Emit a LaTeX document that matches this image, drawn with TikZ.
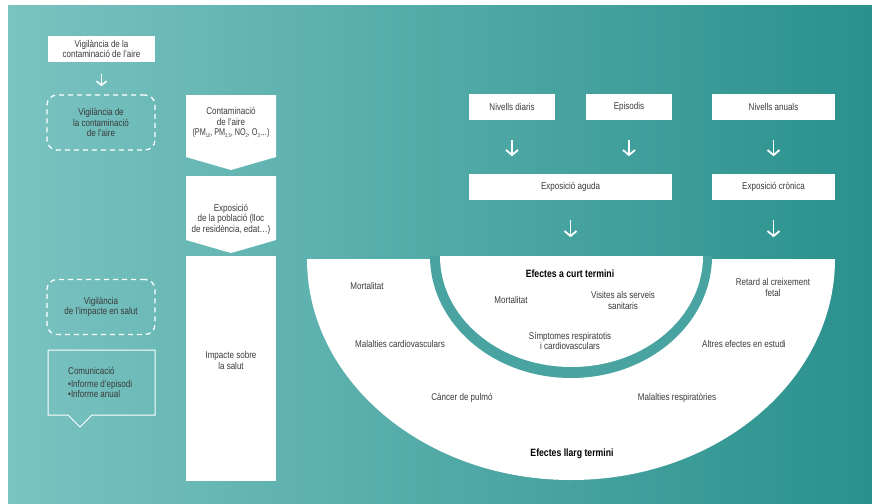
\documentclass[tikz,border=0pt]{standalone}
\usepackage{fontspec}
\setmainfont{Liberation Sans}[FakeStretch=0.82]
\usetikzlibrary{arrows.meta,calc}
\definecolor{bgL}{HTML}{7AC3C1}
\definecolor{bgR}{HTML}{2A918D}
\definecolor{ringc}{HTML}{48A3A1}
\definecolor{txt}{HTML}{3A3A3A}
\newcommand{\mysub}[1]{\raisebox{-1.6pt}{\fontsize{5.5}{5.5}\selectfont #1}}
\begin{document}
\begin{tikzpicture}[x=1pt,y=-1pt,
  every node/.style={font=\fontsize{9.8}{10.5}\selectfont, text=txt, align=center, inner sep=0pt},
  wbox/.style={fill=white, minimum height=26pt},
  dbox/.style={draw=white, dash pattern=on 5pt off 4pt, line width=1.3pt, rounded corners=10pt, minimum width=108pt, minimum height=55pt},
  arr/.style={draw=white, line width=1.8pt, -{Straight Barb[length=5pt,width=12pt,line width=1.8pt]}},
  sarr/.style={draw=white, line width=1.6pt, -{Straight Barb[length=4pt,width=10pt,line width=1.6pt]}},
  bold/.style={font=\fontsize{10.6}{10.5}\selectfont\bfseries, text=black}
]
\useasboundingbox (0,0) rectangle (872,503);
\fill[white] (0,0) rectangle (872,503);
\shade[left color=bgL, right color=bgR] (8,6) rectangle (872,503);

% left column
\node[wbox, minimum width=107pt] (v1) at (101.5,49) {Vigilància de la\\contaminació de l’aire};
\draw[sarr] ($(v1.south)+(0,12)$) -- ($(v1.south)+(0,24)$);
\node[dbox] (v2) at (101,122.5) {Vigilància de\\la contaminació\\de l’aire};
\node[dbox] (v3) at (101,307) {Vigilància\\de l’impacte en salut};
\draw[white, line width=1pt] (48,350) -- (155,350) -- (155,415) -- (92,415) -- (80,427) -- (68,415) -- (48,415) -- cycle;
\node[anchor=west, align=left] (com) at (68,371) {Comunicació};
\node[anchor=north west, align=left] (inf) at (68,380) {•Informe d’episodi\\•Informe anual};

% chevron column
\fill[white] (186,95) -- (276,95) -- (276,157) -- (231,170) -- (186,157) -- cycle;
\node (c1) at (231,123) {Contaminació\\de l’aire\\\scalebox{0.9}[1]{(PM\mysub{10}, PM\mysub{2,5}, NO\mysub{2}, O\mysub{3}…)}};
\fill[white] (186,176) -- (276,176) -- (276,240) -- (231,253) -- (186,240) -- cycle;
\node (c2) at (231,219) {Exposició\\de la població (lloc\\de residència, edat…)};
\node[fill=white, minimum width=90pt, minimum height=225pt] (imp) at (231,368.5) {};
\node (impt) at (231,360.5) {Impacte sobre\\la salut};

% right boxes
\node[wbox, minimum width=86pt] (nd) at (512,107) {Nivells diaris};
\node[wbox, minimum width=86pt] (ep) at (629,107) {Episodis};
\node[wbox, minimum width=123pt] (na) at (773.5,107) {Nivells anuals};
\node[wbox, minimum width=203pt] (ea) at (570.5,187) {Exposició aguda};
\node[wbox, minimum width=123pt] (ec) at (773.5,187) {Exposició crònica};
\foreach \n in {nd,ep,na}{\draw[arr] ($(\n.south)+(0,20)$) -- ($(\n.south)+(0,36)$);}
\foreach \n in {ea,ec}{\draw[arr] ($(\n.south)+(0,20)$) -- ($(\n.south)+(0,37)$);}

% semicircles
\begin{scope}
\clip (300,259) rectangle (845,495);
\fill[white] (571,259) ellipse [x radius=264, y radius=221];
\end{scope}
\begin{scope}
\clip (420,256) rectangle (720,390);
\fill[ringc] (571,256) ellipse [x radius=141, y radius=122];
\fill[white] (571.5,256) ellipse [x radius=131.5, y radius=111];
\end{scope}

\node[bold] (ect) at (570,274) {Efectes a curt termini};
\node (m1) at (511,300) {Mortalitat};
\node (vis) at (623,300.5) {Visites als serveis\\sanitaris};
\node (sim) at (570,341) {Símptomes respiratotis\\i cardiovasculars};
\node (m2) at (367,286) {Mortalitat};
\node (mc) at (400,344) {Malalties cardiovasculars};
\node (cp) at (462,398) {Càncer de pulmó};
\node (rc) at (773,287.5) {Retard al creixement\\fetal};
\node (ae) at (744,344) {Altres efectes en estudi};
\node (mr) at (677,398) {Malalties respiratòries};
\node[bold] (elt) at (572,454) {Efectes llarg termini};
\end{tikzpicture}
\end{document}
